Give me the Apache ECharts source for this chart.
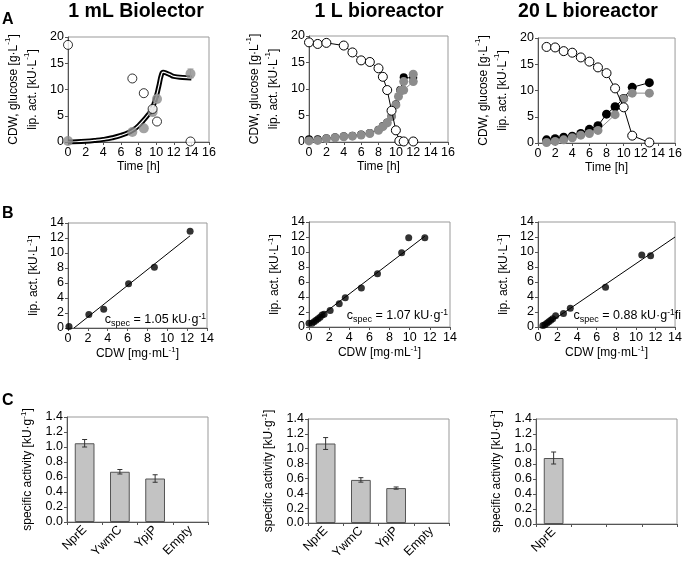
<!DOCTYPE html>
<html>
<head>
<meta charset="utf-8">
<script src="https://cdn.jsdelivr.net/npm/echarts@6/dist/echarts.min.js"></script>
<style>
html,body{margin:0;padding:0;background:#fff;}
#main{width:685px;height:563px;}
</style>
</head>
<body>
<div id="main"></div>
<script>
// ---- data ----
// A: 1 mL Biolector
var a1CurveT = [0,1,2,3,4,5,6,7,7.5,8,8.5,9,9.5,10,10.3,10.6,10.8,11.2,11.6,12,13,14];
var a1CurveV = [0,0.05,0.15,0.3,0.5,0.8,1.25,1.9,2.4,3.1,4.0,5.0,6.2,8.6,10.6,12.8,13.3,13.1,12.8,12.5,12.3,12.2];
var a1Glucose = [[0,18.5],[7.3,12.1],[8.6,9.3],[9.6,6.3],[10.1,3.9],[13.9,0.1]];
var a1Lip = [[0,0.2],[7.3,1.9],[8.6,2.6],[9.6,5.7],[10.1,8.2],[13.9,13.0]];
var a1LipErr = [[9.6,5.0,6.4],[10.1,7.5,8.9],[13.9,12.2,13.9]];
// A: 1 L bioreactor
var a2Glucose = [[0,18.8],[1,18.5],[2,18.7],[4,18.2],[5,16.9],[6,15.4],[7,15.1],[8,13.9],[8.5,12.3],[9,9.8],[9.5,5.9],[10,2.2],[10.4,0.2],[10.9,0.1],[12,0.1]];
var a2Cdw = [[0,0.5],[1,0.5],[2,0.7],[3,0.9],[4,1.1],[5,1.2],[6,1.4],[7,1.7],[8,2.3],[8.5,3.0],[9,3.7],[9.5,4.9],[10,7.1],[10.5,9.8],[10.9,12.2],[12,12.1]];
var a2Lip = [[0,0.2],[1,0.3],[2,0.6],[3,0.8],[4,1.0],[5,1.1],[6,1.3],[7,1.6],[8,2.2],[8.5,2.9],[9,3.6],[9.5,4.8],[10,7.0],[10.3,8.6],[10.6,9.7],[10.9,9.8],[12,11.4]];
var a2Lip2 = [[10.6,9.7],[10.9,11.4],[12,12.8]];
// A: 20 L bioreactor
var a3Glucose = [[1,18.3],[2,18.2],[3,17.5],[4,17.2],[5,16.3],[6,15.5],[7,14.4],[8,13.3],[9,10.4],[10,6.8],[11,1.4],[13,0.1]];
var a3Cdw = [[1,0.6],[2,0.8],[3,1.1],[4,1.3],[5,1.8],[6,2.6],[7,3.3],[8,5.5],[9,6.9],[10,8.5],[11,10.6],[13,11.5]];
var a3Lip = [[1,0.1],[2,0.3],[3,0.6],[4,1.0],[5,1.5],[6,1.8],[7,2.4],[9,5.4],[10,8.4],[11,9.5],[13,9.5]];
// B: lipase activity vs CDW
var b1Pts = [[0.1,0.2],[2.1,1.8],[3.6,2.5],[6.1,5.9],[8.7,8.1],[12.3,12.9]];
var b1Fit = [[0.6,0],[12.3,12.3]];
var b2Pts = [[0,0.5],[0.3,0.5],[0.5,0.7],[0.7,0.9],[0.9,1.1],[1.1,1.3],[1.3,1.6],[1.5,1.7],[2.1,2.2],[3.0,3.1],[3.6,3.9],[5.2,5.2],[6.8,7.1],[9.2,9.9],[9.9,11.9],[11.5,11.9]];
var b2Fit = [[0,0.3],[11.5,12.1]];
var b3Pts = [[0.5,0.2],[0.7,0.3],[0.9,0.5],[1.1,0.7],[1.3,0.9],[1.5,1.1],[1.8,1.5],[2.6,1.8],[3.3,2.5],[6.9,5.3],[10.6,9.6],[11.5,9.5]];
var b3Fit = [[0.5,0],[14,12]];
var bLabels = ['1.05', '1.07', '0.88'];
// C: specific activity
var cCats = ['NprE','YwmC','YpjP','Empty'];
var cCats3 = ['NprE','','',''];
var c1Vals = [1.05,0.67,0.58,0];
var c1Err = [0.05,0.03,0.05,0];
var c2Vals = [1.07,0.58,0.47,0];
var c2Err = [0.08,0.03,0.015,0];
var c3Vals = [0.88,null,null,null];
var c3Err = [0.08,0,0,0];

var FONT = 'Liberation Sans';
var grids = [
  {left:68, top:37, width:141, height:105},
  {left:309, top:36, width:139, height:106},
  {left:538, top:38, width:141, height:105},
  {left:68, top:223, width:139, height:105},
  {left:309, top:222, width:141, height:105},
  {left:538, top:222, width:140, height:105},
  {left:67, top:417, width:141, height:105},
  {left:308, top:419, width:141, height:104},
  {left:536, top:419, width:141, height:105}
];
grids.forEach(function(g){ g.show = true; g.borderColor = '#999'; g.borderWidth = 1; g.containLabel = false; });

var axisLineStyle = {show:true, lineStyle:{color:'#555', width:1}};
var tickStyle = {show:true, length:3, lineStyle:{color:'#555'}};
var labelStyle = {fontFamily:FONT, fontSize:12.5, color:'#000', margin:4};
function richFor(lh){
  return {
    t:{fontFamily:FONT, fontSize:12, color:'#000', lineHeight:lh},
    s:{fontFamily:FONT, fontSize:8, color:'#000', lineHeight:8, verticalAlign:'top'}
  };
}

function valAxis(gi, max, interval, name, gap, extra, lh){
  var ax = {
    type:'value', gridIndex:gi, min:0, max:max, interval:interval,
    axisLine:axisLineStyle, axisTick:tickStyle, axisLabel:Object.assign({}, labelStyle),
    splitLine:{show:false},
    name:name, nameLocation:'middle', nameGap:gap,
    nameTextStyle:{fontFamily:FONT, fontSize:12, color:'#000', rich:richFor(lh || 15)}
  };
  return Object.assign(ax, extra || {});
}

var yNameA = '{t|CDW, glucose [g·L}{s|-1}{t|]}\n{t|lip. act. [kU·L}{s|-1}{t|]}';
var yNameB = '{t|lip. act. [kU·L}{s|-1}{t|]}';
var yNameC = '{t|specific activity [kU·g}{s|-1}{t|]}';
var xNameB = '{t|CDW [mg·mL}{s|-1}{t|]}';

var xAxes = [], yAxes = [];
for (var i = 0; i < 3; i++) {
  xAxes.push(valAxis(i, 16, 2, '{t|Time [h]}', 17));
  yAxes.push(valAxis(i, 20, 5, yNameA, 26, {nameRotate:90}, 19));
}
for (var i = 3; i < 6; i++) {
  xAxes.push(valAxis(i, 14, 2, xNameB, 16));
  yAxes.push(valAxis(i, 14, 2, yNameB, 27, {nameRotate:90}));
}
[cCats, cCats, cCats3].forEach(function(cats, k){
  var gi = 6 + k;
  xAxes.push({
    type:'category', gridIndex:gi, data:cats,
    axisLine:axisLineStyle, axisTick:{show:true, length:3, lineStyle:{color:'#555'}},
    axisLabel:{fontFamily:FONT, fontSize:12.5, color:'#000', rotate:45, margin:6, interval:0}
  });
  yAxes.push(valAxis(gi, 1.4, 0.2, yNameC, 32, {
    nameRotate:90,
    axisLabel:Object.assign({}, labelStyle, {formatter:function(v){ return v.toFixed(1); }})
  }));
});

var GRAY = '#8c8c8c';
function openCircles(gi, data, withLine){
  return {type: withLine ? 'line' : 'scatter', xAxisIndex:gi, yAxisIndex:gi, data:data,
    symbol:'circle', symbolSize:9, showSymbol:true,
    lineStyle:{color:'#000', width:1},
    itemStyle:{color:'#fff', borderColor:'#000', borderWidth:1}, z:5, animation:false};
}
function filled(gi, data, color, withLine, size){
  return {type: withLine ? 'line' : 'scatter', xAxisIndex:gi, yAxisIndex:gi, data:data,
    symbol:'circle', symbolSize:size || 9, showSymbol:true,
    lineStyle:{color:color, width:1},
    itemStyle:{color:color, borderColor:color, borderWidth:0}, z:3, animation:false};
}
function errSeries(gi, data, color, cap){
  return {type:'custom', xAxisIndex:gi, yAxisIndex:gi, data:data, z:4, animation:false,
    renderItem:function(params, api){
      var x = api.value(0), lo = api.value(1), hi = api.value(2);
      var p1 = api.coord([x, lo]), p2 = api.coord([x, hi]);
      var st = {stroke:color, lineWidth:1};
      return {type:'group', children:[
        {type:'line', shape:{x1:p1[0], y1:p1[1], x2:p2[0], y2:p2[1]}, style:st},
        {type:'line', shape:{x1:p1[0]-cap, y1:p1[1], x2:p1[0]+cap, y2:p1[1]}, style:st},
        {type:'line', shape:{x1:p2[0]-cap, y1:p2[1], x2:p2[0]+cap, y2:p2[1]}, style:st}
      ]};
    }};
}

var curve = a1CurveT.map(function(t, i){ return [t, a1CurveV[i]]; });
var series = [
  {type:'line', xAxisIndex:0, yAxisIndex:0, data:curve, smooth:true, showSymbol:false, lineStyle:{color:'#000', width:5}, z:2, animation:false},
  {type:'line', xAxisIndex:0, yAxisIndex:0, data:curve, smooth:true, showSymbol:false, lineStyle:{color:'#fff', width:1.2}, z:2, animation:false},
  errSeries(0, a1LipErr, '#999', 3),
  filled(0, a1Lip, GRAY, false, 10),
  openCircles(0, a1Glucose, false),

  filled(1, a2Cdw, '#000', true, 8),
  filled(1, a2Lip, GRAY, true, 9),
  filled(1, a2Lip2, GRAY, true, 9),
  openCircles(1, a2Glucose, true),

  filled(2, a3Cdw, '#000', true, 9),
  filled(2, a3Lip, GRAY, true, 9),
  openCircles(2, a3Glucose, true)
];

[[b1Pts, b1Fit], [b2Pts, b2Fit], [b3Pts, b3Fit]].forEach(function(p, k){
  var gi = 3 + k;
  series.push({type:'line', xAxisIndex:gi, yAxisIndex:gi, data:p[1], showSymbol:false,
    lineStyle:{color:'#000', width:1}, z:2, animation:false});
  series.push(filled(gi, p[0], '#000', false, 7));
});

[[c1Vals, c1Err], [c2Vals, c2Err], [c3Vals, c3Err]].forEach(function(p, k){
  var gi = 6 + k;
  var barData = p[0].map(function(v){
    return v === 0 ? {value:0, itemStyle:{borderWidth:0}} : v;
  });
  series.push({type:'bar', xAxisIndex:gi, yAxisIndex:gi, data:barData, barWidth:'56%',
    itemStyle:{color:'#c3c3c3', borderColor:'#555', borderWidth:1}, animation:false});
  var err = [];
  p[0].forEach(function(v, j){ if (v && p[1][j]) err.push([j, v - p[1][j], v + p[1][j]]); });
  series.push(errSeries(gi, err, '#333', 2.5));
});

var annRich = {
  c:{fontFamily:FONT, fontSize:12.5, color:'#000', lineHeight:16},
  b:{fontFamily:FONT, fontSize:9, color:'#000', lineHeight:8, verticalAlign:'bottom'},
  s:{fontFamily:FONT, fontSize:8.5, color:'#000', lineHeight:8, verticalAlign:'top'}
};
function ann(x, y, val, tail){
  return {type:'text', x:x, y:y, z:10, style:{
    text:'{c|c}{b|spec}{c| = ' + val + ' kU·g}{s|-1}' + (tail ? '{c|' + tail + '}' : ''),
    rich:annRich, align:'right', verticalAlign:'middle'}};
}
function title(x, txt){
  return {type:'text', x:x, y:12, style:{text:txt, font:'bold 19.5px "Liberation Sans"', fill:'#000', align:'center', verticalAlign:'middle'}};
}
function letter(y, txt){
  return {type:'text', x:2, y:y, style:{text:txt, font:'bold 16px "Liberation Sans"', fill:'#000', align:'left', verticalAlign:'middle'}};
}

var chart = echarts.init(document.getElementById('main'), null, {renderer:'canvas'});
chart.setOption({
  backgroundColor:'#fff',
  animation:false,
  grid:grids,
  xAxis:xAxes,
  yAxis:yAxes,
  series:series,
  graphic:[
    title(136, '1 mL Biolector'), title(379, '1 L bioreactor'), title(588, '20 L bioreactor'),
    letter(20, 'A'), letter(214, 'B'), letter(401, 'C'),
    ann(206, 320, bLabels[0]), ann(448, 316, bLabels[1]), ann(681, 316, bLabels[2], 'fi')
  ]
});
</script>
</body>
</html>
